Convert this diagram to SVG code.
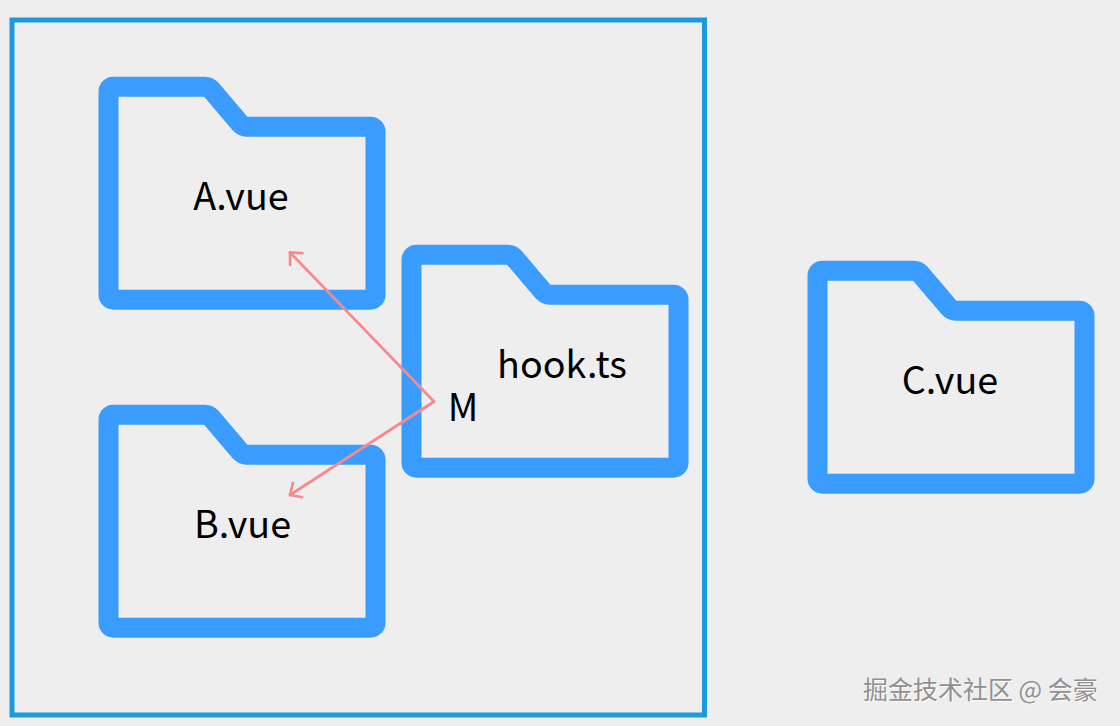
<svg xmlns="http://www.w3.org/2000/svg" width="1120" height="726" viewBox="0 0 1120 726">
<style>
.folder{fill:none;stroke:#3a9cff;stroke-width:20;stroke-linejoin:round}
.label{font-family:"Noto Sans CJK SC","Noto Sans",sans-serif;font-size:37.700px;fill:#000}
.wire{fill:none;stroke:#f58a8c;stroke-width:2.700;stroke-linecap:round;stroke-linejoin:round}
.wm{font-family:"Noto Sans CJK SC",sans-serif;font-size:25px}
</style>
<defs>
<path id="f" d="M108.500 91.700a5 5 0 0 1 5-5H205a8 8 0 0 1 6 2.700L240 123.500a10 10 0 0 0 7 3.200H370.500a5 5 0 0 1 5 5V294.700a5 5 0 0 1-5 5H113.500a5 5 0 0 1-5-5Z"/>
<marker id="a" viewBox="0 0 16 20" refX="14" refY="10" markerWidth="16" markerHeight="20" markerUnits="userSpaceOnUse" orient="auto"><path d="M5 1.500L14 10L5 18.500" fill="none" stroke="#f58a8c" stroke-width="2.700" stroke-linecap="round" stroke-linejoin="round"/></marker>
</defs>
<rect width="1120" height="726" fill="#eeeeee"/>
<rect id="boundary" x="12" y="20" width="692.500" height="695" fill="none" stroke="#1b9ae0" stroke-width="5"/>
<g id="node-a"><use href="#f" class="folder"/><text class="label" x="241" y="209.500" text-anchor="middle">A.vue</text></g>
<g id="node-b"><use href="#f" class="folder" y="328"/><text class="label" x="242.500" y="537.500" text-anchor="middle">B.vue</text></g>
<g id="node-hook"><use href="#f" class="folder" x="303" y="168"/><text class="label" x="562" y="377.500" text-anchor="middle">hook.ts</text></g>
<g id="node-c"><use href="#f" class="folder" x="709" y="184"/><text class="label" x="950" y="393.500" text-anchor="middle">C.vue</text></g>
<g id="connectors">
<path class="wire" d="M434 401.500L290 252.500" marker-end="url(#a)"/>
<path class="wire" d="M434 401.500L290 495" marker-end="url(#a)"/>
</g>
<text class="label" x="463" y="421" text-anchor="middle">M</text>
<g id="watermark" class="wm">
<text x="864" y="699.500" fill="#ffffff" fill-opacity="0.9">掘金技术社区 @ 会豪</text>
<text x="863" y="698.500" fill="#909090">掘金技术社区 @ 会豪</text>
</g>
</svg>
